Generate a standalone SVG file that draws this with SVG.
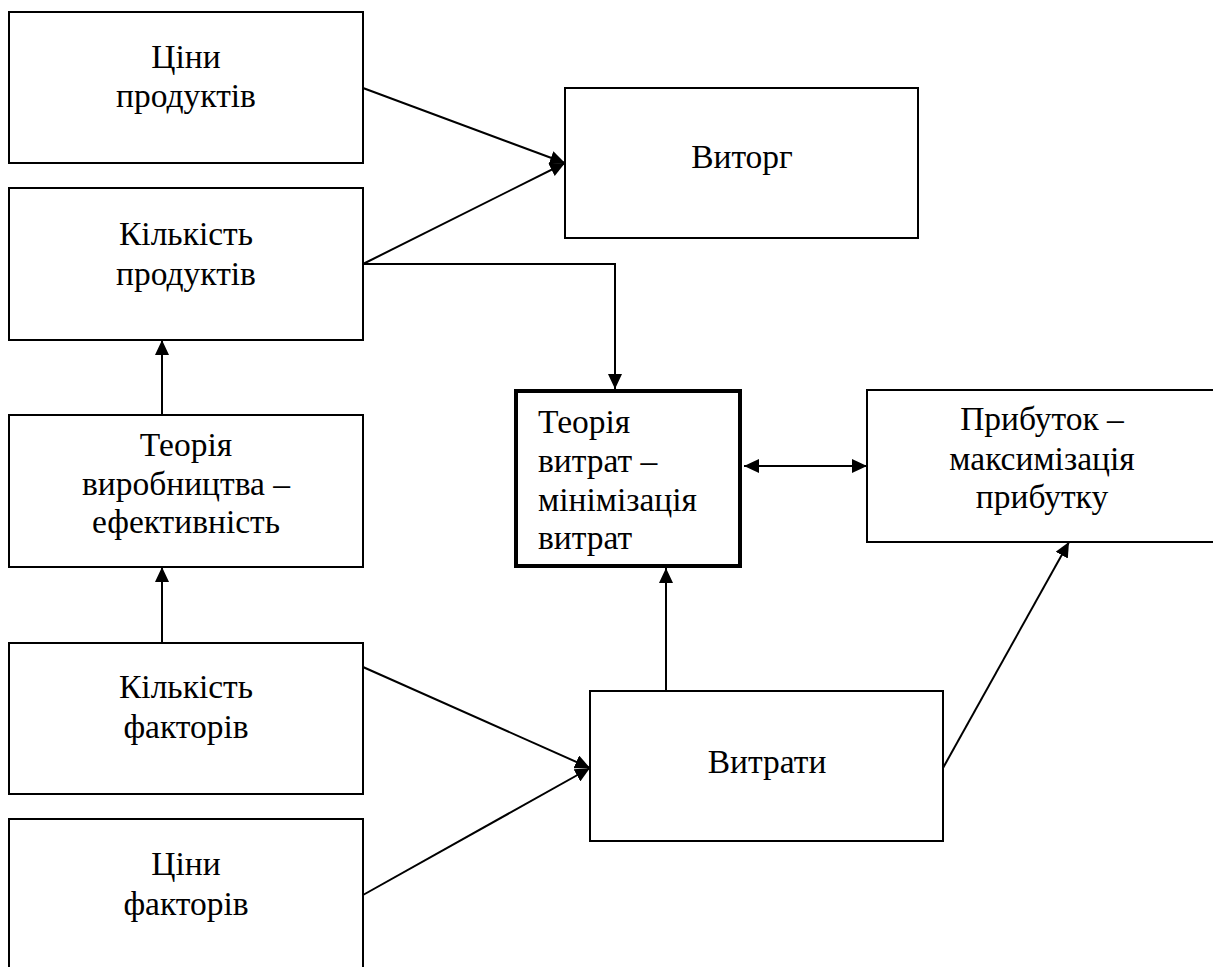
<svg xmlns="http://www.w3.org/2000/svg" width="1213" height="967" viewBox="0 0 1213 967">
<defs>
<style>
.box{fill:#fff;stroke:#000;stroke-width:2}
.thick{fill:#fff;stroke:#000;stroke-width:4}
.t{font-family:'Liberation Serif','Times New Roman','DejaVu Serif',serif;font-size:33.5px;fill:#000}
.c{text-anchor:middle}
.ln{fill:none;stroke:#000;stroke-width:2}
</style>
<marker id="ah" markerUnits="userSpaceOnUse" markerWidth="16" markerHeight="14" refX="15" refY="7" orient="auto-start-reverse">
<path d="M0,0 L15,7 L0,14 z" fill="#000"/>
</marker>
</defs>
<rect width="1213" height="967" fill="#fff"/>
<g id="connectors">
<line class="ln" x1="363" y1="88" x2="565" y2="163" marker-end="url(#ah)"/>
<line class="ln" x1="363" y1="264" x2="565" y2="163" marker-end="url(#ah)"/>
<polyline class="ln" points="363,264 615,264 615,389" marker-end="url(#ah)"/>
<line class="ln" x1="162" y1="415" x2="162" y2="340" marker-end="url(#ah)"/>
<line class="ln" x1="162" y1="643" x2="162" y2="567" marker-end="url(#ah)"/>
<line class="ln" x1="363" y1="667" x2="590" y2="768" marker-end="url(#ah)"/>
<line class="ln" x1="363" y1="895" x2="590" y2="768" marker-end="url(#ah)"/>
<line class="ln" x1="666" y1="691" x2="666" y2="568" marker-end="url(#ah)"/>
<line class="ln" x1="744" y1="466" x2="867" y2="466" marker-start="url(#ah)" marker-end="url(#ah)"/>
<line class="ln" x1="943" y1="768" x2="1069" y2="542" marker-end="url(#ah)"/>
</g>
<g font-family="'Liberation Serif', 'Times New Roman', 'DejaVu Serif', serif" font-size="33.5">
<g id="n-ceny-produktiv">
<rect class="box" x="9" y="12" width="354" height="151"/>
<text class="t c" x="186" y="68">Ціни</text>
<text class="t c" x="186" y="107">продуктів</text>
</g>
<g id="n-kilkist-produktiv">
<rect class="box" x="9" y="188" width="354" height="152"/>
<text class="t c" x="186" y="245">Кількість</text>
<text class="t c" x="186" y="285">продуктів</text>
</g>
<g id="n-vytorg">
<rect class="box" x="565" y="88" width="353" height="150"/>
<text class="t c" x="742" y="168">Виторг</text>
</g>
<g id="n-teoriya-vyrobnytstva">
<rect class="box" x="9" y="415" width="354" height="152"/>
<text class="t c" x="186" y="456">Теорія</text>
<text class="t c" x="186" y="495">виробництва –</text>
<text class="t c" x="186" y="533">ефективність</text>
</g>
<g id="n-kilkist-faktoriv">
<rect class="box" x="9" y="643" width="354" height="151"/>
<text class="t c" x="186" y="698">Кількість</text>
<text class="t c" x="186" y="738">факторів</text>
</g>
<g id="n-ceny-faktoriv">
<rect class="box" x="9" y="819" width="354" height="200"/>
<text class="t c" x="186" y="875">Ціни</text>
<text class="t c" x="186" y="915">факторів</text>
</g>
<g id="n-teoriya-vytrat">
<rect class="thick" x="516" y="391" width="224" height="175"/>
<text class="t" x="538" y="433">Теорія</text>
<text class="t" x="538" y="472">витрат –</text>
<text class="t" x="538" y="511">мінімізація</text>
<text class="t" x="538" y="549">витрат</text>
</g>
<g id="n-prybutok">
<rect class="box" x="867" y="390" width="400" height="152"/>
<text class="t c" x="1042" y="430">Прибуток –</text>
<text class="t c" x="1042" y="470">максимізація</text>
<text class="t c" x="1042" y="508">прибутку</text>
</g>
<g id="n-vytraty">
<rect class="box" x="590" y="691" width="353" height="150"/>
<text class="t c" x="767" y="773">Витрати</text>
</g>
</g>
</svg>
